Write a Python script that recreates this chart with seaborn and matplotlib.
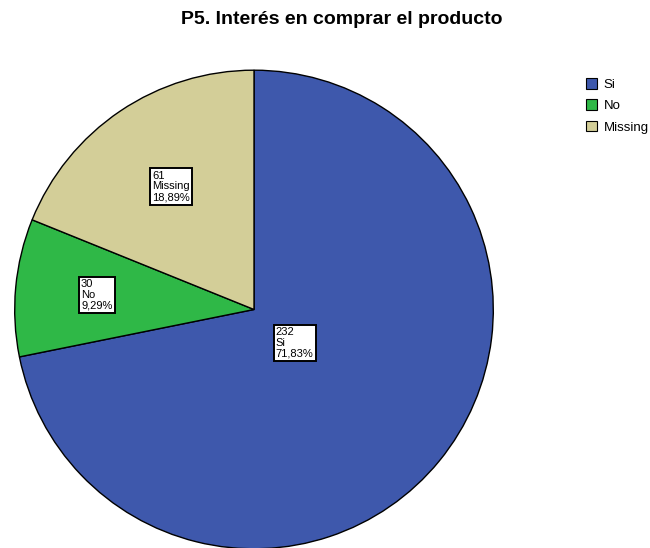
import matplotlib
matplotlib.use("Agg")
import matplotlib.pyplot as plt
import seaborn as sns
import numpy as np
from matplotlib.patches import Patch

sns.set_theme(style="white")
plt.rcParams['font.family'] = ['Liberation Sans', 'DejaVu Sans']
plt.rcParams['text.color'] = 'black'

categories = ["Si", "No", "Missing"]
counts = [232, 30, 61]
percents = ["71,83%", "9,29%", "18,89%"]
colors = ["#3E58AC", "#2FB847", "#D3CE98"]
label_radius = [0.22, 0.66, 0.62]

fig = plt.figure(figsize=(6.5, 5.48), dpi=100)
ax = fig.add_axes([13.5/650, (548-550)/548, 481/650, 481/548])
wedges, _ = ax.pie(counts, colors=colors, startangle=90, counterclock=False,
                   wedgeprops=dict(edgecolor="black", linewidth=1.0), radius=1.0)
ax.set_xlim(-1.005, 1.005)
ax.set_ylim(-1.005, 1.005)
ax.set_aspect("equal")
ax.axis("off")

for w, c, cat, p, r in zip(wedges, counts, categories, percents, label_radius):
    ang = np.deg2rad((w.theta1 + w.theta2) / 2)
    x, y = r * np.cos(ang), r * np.sin(ang)
    ax.text(x, y, f"{c}\n{cat}\n{p}", ha="center", va="center", fontsize=8,
            multialignment="left", linespacing=1.1, color="black",
            bbox=dict(boxstyle="square,pad=0.2", facecolor="white", edgecolor="black", linewidth=1.4))

fig.text(342/650, 1 - 20/548, "P5. Interés en comprar el producto", ha="center", va="center",
         fontsize=14, fontweight="bold", color="black")

handles = [Patch(facecolor=col, edgecolor="black", linewidth=0.8) for col in colors]
fig.legend(handles, categories, loc="upper left", bbox_to_anchor=(586/650, 1 - 78/548),
           frameon=False, fontsize=9.5, handlelength=0.85, handleheight=0.85,
           labelspacing=0.65, handletextpad=0.5, borderaxespad=0, borderpad=0)

fig.savefig("out.png", dpi=100)
